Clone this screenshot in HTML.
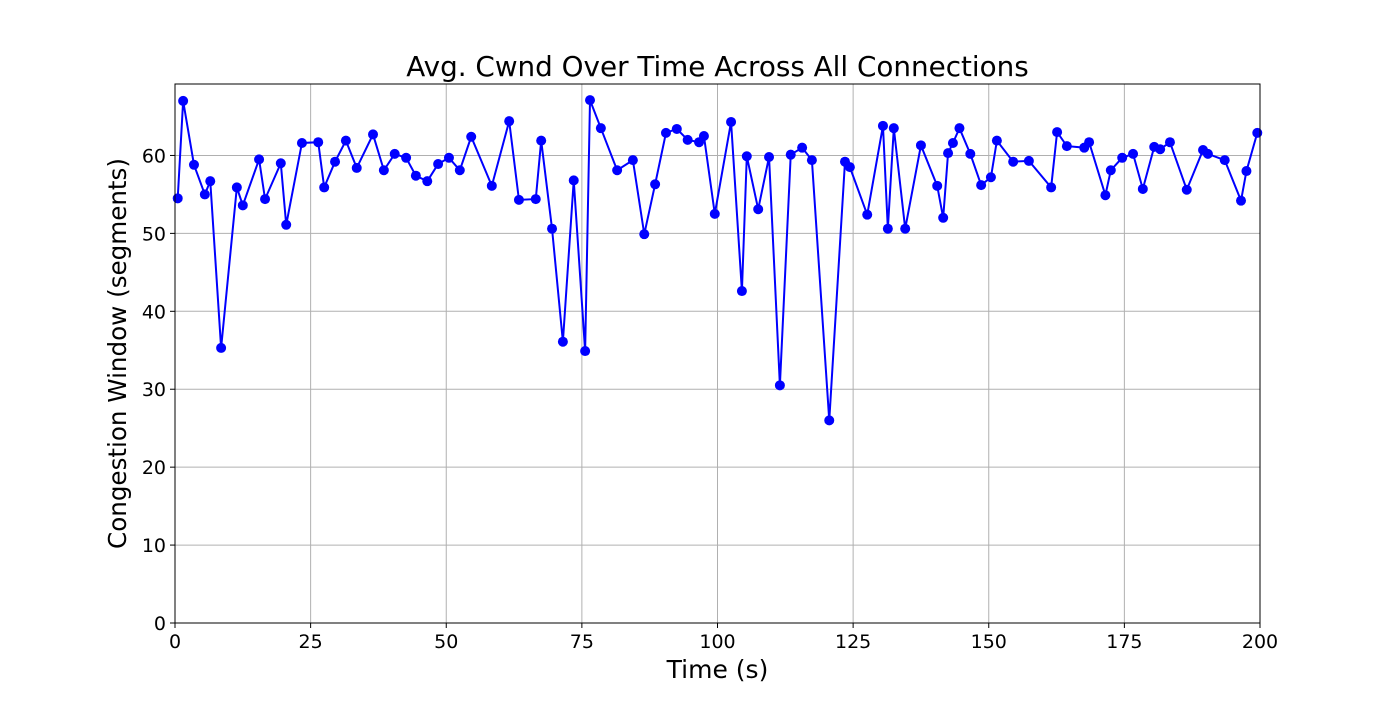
<!DOCTYPE html>
<html><head><meta charset="utf-8"><style>
body{margin:0;background:#fff;font-family:"Liberation Sans","DejaVu Sans",sans-serif}
</style></head><body>
<svg id="chart" width="1400" height="700" xmlns="http://www.w3.org/2000/svg" font-family="DejaVu Sans, Liberation Sans, sans-serif"></svg>
<script>
const times=[0.5,1.5,3.5,5.5,6.5,8.5,11.4,12.5,15.5,16.6,19.5,20.5,23.4,26.4,27.5,29.5,31.5,33.5,36.5,38.5,40.5,42.6,44.4,46.5,48.5,50.5,52.5,54.6,58.4,61.6,63.4,66.5,67.5,69.5,71.5,73.5,75.6,76.5,78.5,81.5,84.4,86.5,88.5,90.5,92.5,94.5,96.6,97.5,99.5,102.5,104.5,105.4,107.5,109.5,111.5,113.5,115.6,117.4,120.6,123.5,124.4,127.6,130.5,131.4,132.5,134.6,137.5,140.5,141.6,142.5,143.4,144.6,146.6,148.6,150.4,151.5,154.5,157.4,161.5,162.6,164.4,167.6,168.5,171.5,172.5,174.6,176.6,178.4,180.5,181.6,183.4,186.5,189.5,190.4,193.5,196.5,197.5,199.5];
const cwnd=[54.5,67.0,58.8,55.0,56.7,35.3,55.9,53.6,59.5,54.4,59.0,51.1,61.6,61.7,55.9,59.2,61.9,58.4,62.7,58.1,60.2,59.7,57.4,56.7,58.9,59.7,58.1,62.4,56.1,64.4,54.3,54.4,61.9,50.6,36.1,56.8,34.9,67.1,63.5,58.1,59.4,49.9,56.3,62.9,63.4,62.0,61.7,62.5,52.5,64.3,42.6,59.9,53.1,59.8,30.5,60.1,61.0,59.4,26.0,59.2,58.5,52.4,63.8,50.6,63.5,50.6,61.3,56.1,52.0,60.3,61.6,63.5,60.2,56.2,57.2,61.9,59.2,59.3,55.9,63.0,61.2,61.0,61.7,54.9,58.1,59.7,60.2,55.7,61.1,60.8,61.7,55.6,60.7,60.2,59.4,54.2,58.0,62.9];
const xTicks=[0,25,50,75,100,125,150,175,200];
const yTicks=[0,10,20,30,40,50,60];
const NS='http://www.w3.org/2000/svg';
const L=175,R=1260,T=84,B=623,XMAX=200,YMAX=69.17;
const sx=v=>L+v/XMAX*(R-L), sy=v=>B-v/YMAX*(B-T);
const svg=document.getElementById('chart');
function mk(t,a,p){const e=document.createElementNS(NS,t);for(const k in a)e.setAttribute(k,a[k]);(p||svg).appendChild(e);return e;}
const grid=mk('g',{});


xTicks.forEach(v=>{
 mk('line',{x1:sx(v),x2:sx(v),y1:T,y2:B,stroke:'#b0b0b0','stroke-width':1},grid);
 mk('line',{x1:sx(v),x2:sx(v),y1:B,y2:B+5,stroke:'#000','stroke-width':1});
 const t=mk('text',{x:sx(v),y:B+25,'text-anchor':'middle','font-size':19});
 t.textContent=v;
 
 
});
yTicks.forEach(v=>{
 mk('line',{x1:L,x2:R,y1:sy(v),y2:sy(v),stroke:'#b0b0b0','stroke-width':1},grid);
 mk('line',{x1:L-5,x2:L,y1:sy(v),y2:sy(v),stroke:'#000','stroke-width':1});
 const t=mk('text',{x:L-9,y:sy(v)+7,'text-anchor':'end','font-size':19});
 t.textContent=v;
 
 
});
const pts=times.map((t,i)=>sx(t)+','+sy(cwnd[i])).join(' ');
const line=mk('polyline',{points:pts,fill:'none',stroke:'#0000ff','stroke-width':2});


times.forEach((t,i)=>{
 const c=mk('circle',{cx:sx(t),cy:sy(cwnd[i]),r:5,fill:'#0000ff'});
 
 
});
const frame=mk('rect',{x:L,y:T,width:R-L,height:B-T,fill:'none',stroke:'#000','stroke-width':1});


const title=mk('text',{x:(L+R)/2,y:76,'text-anchor':'middle','font-size':27.8});
title.textContent='Avg. Cwnd Over Time Across All Connections';


const xl=mk('text',{x:(L+R)/2,y:678,'text-anchor':'middle','font-size':25});
xl.textContent='Time (s)';


const yl=mk('text',{x:0,y:0,'text-anchor':'middle','font-size':24.6,transform:'translate(126,'+((T+B)/2)+') rotate(-90)'});
yl.textContent='Congestion Window (segments)';


</script>
</body></html>
